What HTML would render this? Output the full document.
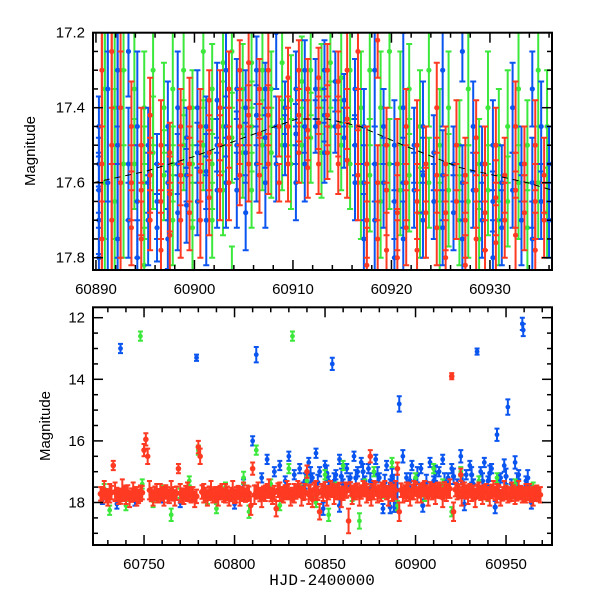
<!DOCTYPE html>
<html><head><meta charset="utf-8">
<style>
html,body{margin:0;padding:0;background:#fff}
svg{display:block}
text{font-family:"Liberation Sans",sans-serif;font-size:15px;fill:#000}
</style></head>
<body>
<svg id="chart" width="600" height="600" viewBox="0 0 600 600" xmlns="http://www.w3.org/2000/svg">
<defs>
<clipPath id="clipTop"><rect x="93" y="32.7" width="459" height="237.3"/></clipPath>
<clipPath id="clipBot"><rect x="93" y="307.3" width="459" height="237.7"/></clipPath>
</defs>
<g id="topMarks" clip-path="url(#clipTop)"></g>
<g id="botMarks" clip-path="url(#clipBot)"></g>
<g id="axes"></g>
<text x="35" y="151" transform="rotate(-90 35 151)" text-anchor="middle">Magnitude</text>
<text x="50" y="426" transform="rotate(-90 50 426)" text-anchor="middle">Magnitude</text>
<text x="322" y="585" text-anchor="middle" style="font-family:'Liberation Mono',monospace;font-size:16px">HJD-2400000</text>
</svg>
<script>
const colors = {blue:"#0a55f0", green:"#3de83d", red:"#ff3a22"};
const topBlue = [
[60890.3,17.45,.08],[60890.3,17.55,.07],[60890.3,17.62,.10],[60890.3,17.70,.09],[60890.3,17.80,.12],
[60891.2,17.35,.30],[60891.2,17.60,.35],[60892.2,17.30,.25],[60892.2,17.50,.30],[60892.2,17.75,.30],
[60893.3,17.25,.12],[60893.3,17.55,.15],[60893.3,17.70,.10],[60894.2,17.45,.20],[60894.2,17.65,.15],[60894.2,17.80,.10],
[60895.3,17.50,.10],[60895.3,17.60,.08],[60895.3,17.70,.12],[60896.2,17.55,.08],[60896.2,17.65,.10],[60896.2,17.72,.09],
[60897.3,17.45,.12],[60897.3,17.60,.10],[60897.3,17.75,.08],[60898.3,17.40,.15],[60898.3,17.55,.08],[60898.3,17.68,.10],
[60899.2,17.48,.08],[60899.2,17.58,.07],[60899.2,17.66,.10],[60900.3,17.40,.10],[60900.3,17.52,.08],[60900.3,17.65,.09],
[60901.2,17.45,.08],[60901.2,17.57,.10],[60901.2,17.70,.12],[60902.3,17.38,.10],[60902.3,17.50,.07],[60902.3,17.62,.10],
[60903.2,17.30,.10],[60903.2,17.45,.08],[60903.2,17.60,.12],[60904.3,17.35,.08],[60904.3,17.50,.09],[60904.3,17.62,.10],
[60905.2,17.40,.10],[60905.2,17.52,.08],[60905.2,17.68,.10],[60906.3,17.30,.09],[60906.3,17.42,.08],[60906.3,17.55,.10],
[60907.2,17.35,.07],[60907.2,17.48,.08],[60907.2,17.60,.12],[60908.3,17.20,.15],[60908.3,17.45,.08],[60908.3,17.55,.10],
[60909.2,17.40,.07],[60909.2,17.50,.08],[60910.3,17.35,.10],[60910.3,17.47,.08],[60910.3,17.60,.10],
[60911.2,17.30,.08],[60911.2,17.45,.07],[60911.2,17.55,.10],[60912.3,17.35,.08],[60912.3,17.45,.07],
[60913.2,17.30,.08],[60913.2,17.42,.07],[60913.2,17.52,.08],[60914.3,17.33,.08],[60914.3,17.45,.07],
[60915.2,17.38,.07],[60915.2,17.48,.08],[60916.3,17.35,.08],[60916.3,17.50,.08],[60916.3,17.60,.10],
[60917.2,17.45,.10],[60917.2,17.60,.10],[60917.2,17.75,.12],[60918.3,17.30,.15],[60918.3,17.55,.10],[60918.3,17.70,.15],
[60919.2,17.45,.10],[60919.2,17.60,.12],[60920.3,17.50,.12],[60920.3,17.65,.10],[60920.3,17.80,.15],
[60921.2,17.40,.20],[60921.2,17.60,.12],[60921.2,17.75,.10],[60922.3,17.50,.10],[60922.3,17.62,.10],
[60923.2,17.45,.12],[60923.2,17.58,.10],[60923.2,17.70,.10],[60924.3,17.52,.10],[60924.3,17.65,.10],
[60925.2,17.30,.15],[60925.2,17.58,.12],[60925.2,17.72,.10],[60926.3,17.55,.10],[60926.3,17.68,.10],
[60927.2,17.25,.08],[60927.2,17.60,.10],[60927.2,17.75,.10],[60928.3,17.45,.12],[60928.3,17.62,.10],
[60929.2,17.55,.10],[60929.2,17.70,.10],[60930.3,17.50,.12],[60930.3,17.65,.08],[60930.3,17.80,.10],
[60931.2,17.60,.10],[60931.2,17.72,.10],[60932.3,17.40,.12],[60932.3,17.62,.10],[60933.2,17.55,.10],[60933.2,17.70,.12],
[60934.3,17.35,.10],[60934.3,17.60,.12],[60934.3,17.75,.10],[60935.2,17.45,.12],[60935.2,17.65,.10],
[60936.0,17.55,.10],[60936.0,17.70,.10]];
const topRed = [
[60890.6,17.30,.35],[60890.6,17.55,.40],[60890.6,17.75,.30],[60891.6,17.25,.30],[60891.6,17.50,.35],[60891.6,17.70,.30],
[60892.5,17.40,.40],[60892.5,17.60,.35],[60893.6,17.45,.12],[60893.6,17.60,.10],[60893.6,17.72,.10],
[60894.6,17.50,.10],[60894.6,17.62,.12],[60894.6,17.75,.10],[60895.5,17.42,.10],[60895.5,17.58,.10],[60895.5,17.70,.08],
[60896.6,17.50,.12],[60896.6,17.65,.10],[60896.6,17.78,.10],[60897.5,17.52,.08],[60897.5,17.63,.10],[60897.5,17.74,.12],
[60898.6,17.45,.10],[60898.6,17.58,.08],[60898.6,17.70,.10],[60899.5,17.40,.08],[60899.5,17.55,.10],[60899.5,17.68,.10],
[60900.6,17.45,.10],[60900.6,17.57,.08],[60900.6,17.70,.10],[60901.5,17.38,.08],[60901.5,17.52,.10],[60901.5,17.64,.10],
[60902.6,17.40,.10],[60902.6,17.50,.08],[60902.6,17.62,.08],[60903.5,17.35,.10],[60903.5,17.48,.08],[60903.5,17.60,.10],
[60904.6,17.30,.08],[60904.6,17.45,.10],[60904.6,17.58,.08],[60905.5,17.28,.10],[60905.5,17.42,.08],[60905.5,17.55,.10],
[60906.6,17.35,.08],[60906.6,17.47,.08],[60906.6,17.58,.10],[60907.5,17.30,.10],[60907.5,17.42,.08],[60907.5,17.55,.08],
[60908.6,17.60,.05],[60908.6,17.45,.08],[60909.5,17.32,.08],[60909.5,17.45,.08],[60909.5,17.55,.10],
[60910.6,17.30,.08],[60910.6,17.42,.07],[60910.6,17.52,.08],[60911.5,17.35,.08],[60911.5,17.46,.08],[60911.5,17.56,.08],
[60912.6,17.32,.08],[60912.6,17.44,.07],[60912.6,17.55,.08],[60913.5,17.30,.07],[60913.5,17.42,.08],[60913.5,17.52,.07],
[60914.6,17.33,.08],[60914.6,17.45,.08],[60914.6,17.55,.08],[60915.5,17.30,.10],[60915.5,17.43,.08],[60915.5,17.54,.10],
[60916.6,17.25,.10],[60916.6,17.45,.10],[60916.6,17.58,.12],[60917.5,17.55,.10],[60917.5,17.70,.10],[60917.5,17.82,.10],
[60918.6,17.22,.10],[60918.6,17.60,.10],[60918.6,17.75,.10],[60919.5,17.50,.10],[60919.5,17.62,.12],[60919.5,17.78,.10],
[60920.6,17.55,.12],[60920.6,17.68,.10],[60920.6,17.80,.10],[60921.5,17.45,.10],[60921.5,17.60,.10],[60921.5,17.72,.10],
[60922.6,17.50,.12],[60922.6,17.65,.10],[60922.6,17.78,.10],[60923.5,17.55,.10],[60923.5,17.68,.12],
[60924.6,17.40,.12],[60924.6,17.58,.10],[60924.6,17.72,.10],[60925.5,17.55,.10],[60925.5,17.68,.10],[60925.5,17.80,.10],
[60926.6,17.50,.12],[60926.6,17.65,.10],[60927.5,17.58,.10],[60927.5,17.70,.10],[60927.5,17.82,.08],
[60928.6,17.48,.10],[60928.6,17.62,.10],[60928.6,17.75,.10],[60929.5,17.55,.10],[60929.5,17.68,.10],[60929.5,17.78,.08],
[60930.6,17.50,.10],[60930.6,17.64,.10],[60930.6,17.76,.10],[60931.5,17.58,.10],[60931.5,17.70,.10],
[60932.6,17.45,.12],[60932.6,17.62,.10],[60932.6,17.74,.10],[60933.5,17.55,.10],[60933.5,17.68,.10],
[60934.6,17.50,.12],[60934.6,17.65,.10],[60934.6,17.78,.10],[60935.5,17.58,.10],[60935.5,17.70,.10]];
const topGreen = [
[60890.9,17.35,.40],[60890.9,17.60,.40],[60891.9,17.40,.35],[60891.9,17.65,.30],[60892.8,17.30,.20],[60892.8,17.55,.25],
[60893.9,17.35,.15],[60893.9,17.55,.12],[60894.9,17.40,.15],[60894.9,17.60,.15],[60894.9,17.82,.10],
[60895.8,17.30,.20],[60895.8,17.52,.15],[60896.9,17.40,.12],[60896.9,17.58,.12],
[60897.8,17.35,.15],[60897.8,17.55,.10],[60897.8,17.70,.12],[60898.9,17.30,.12],[60898.9,17.50,.12],
[60899.8,17.40,.10],[60899.8,17.55,.15],[60899.8,17.72,.12],[60900.9,17.25,.15],[60900.9,17.50,.12],
[60901.8,17.35,.12],[60901.8,17.55,.12],[60901.8,17.70,.10],[60902.9,17.28,.12],[60902.9,17.45,.12],[60902.9,17.62,.12],
[60903.8,17.25,.15],[60903.8,17.48,.12],[60903.8,17.85,.08],[60904.9,17.35,.12],[60904.9,17.52,.12],
[60905.8,17.28,.12],[60905.8,17.45,.12],[60905.8,17.62,.10],[60906.9,17.30,.12],[60906.9,17.50,.12],
[60907.8,17.35,.10],[60907.8,17.52,.12],[60908.9,17.28,.15],[60908.9,17.50,.12],[60909.8,17.38,.12],[60909.8,17.55,.12],
[60910.9,17.33,.12],[60910.9,17.50,.10],[60911.8,17.30,.12],[60911.8,17.48,.12],[60912.9,17.35,.12],[60912.9,17.52,.12],
[60913.8,17.28,.12],[60913.8,17.45,.12],[60914.9,17.32,.12],[60914.9,17.50,.12],[60915.8,17.30,.15],[60915.8,17.55,.12],
[60916.9,17.40,.15],[60916.9,17.60,.15],[60917.8,17.30,.20],[60917.8,17.58,.15],[60918.9,17.40,.15],[60918.9,17.65,.15],
[60919.8,17.25,.15],[60919.8,17.55,.12],[60920.9,17.40,.15],[60920.9,17.62,.12],[60921.8,17.35,.12],[60921.8,17.58,.15],
[60922.9,17.45,.15],[60922.9,17.68,.12],[60923.8,17.30,.15],[60923.8,17.60,.12],[60924.9,17.50,.15],[60924.9,17.72,.12],
[60925.8,17.40,.15],[60925.8,17.62,.15],[60926.9,17.50,.12],[60926.9,17.70,.12],[60927.8,17.35,.15],[60927.8,17.65,.15],
[60928.9,17.55,.12],[60928.9,17.75,.10],[60929.8,17.40,.15],[60929.8,17.62,.12],[60930.9,17.50,.15],[60930.9,17.70,.12],
[60931.8,17.45,.15],[60931.8,17.65,.12],[60932.9,17.35,.15],[60932.9,17.60,.15],[60933.8,17.50,.12],[60933.8,17.72,.12],
[60934.9,17.30,.15],[60934.9,17.60,.15],[60935.8,17.45,.15],[60935.8,17.68,.12]];
const topTrend = [[60889.7,17.60],[60895,17.57],[60900,17.53],[60905,17.48],[60910.4,17.43],[60913.5,17.43],[60916.8,17.45],[60921.2,17.50],[60927,17.56],[60933.8,17.60],[60936.3,17.62]];

const botRed = [
[60727,17.75,.25],[60728,17.60,.30],[60730,17.85,.25],[60731,17.70,.30],[60733,16.80,.15],[60734,17.65,.30],[60736,17.80,.25],[60738,17.60,.35],[60740,17.75,.30],[60742,17.90,.25],
[60744,17.65,.30],[60746,17.80,.30],[60748,17.70,.25],[60750,16.30,.20],[60751,15.95,.20],[60752,16.50,.25],[60753,17.60,.30],[60755,17.85,.25],[60757,17.70,.30],[60759,17.65,.25],
[60761,17.80,.30],[60763,17.75,.25],[60765,17.60,.30],[60767,17.85,.25],[60769,16.90,.15],[60770,17.70,.30],[60772,17.80,.25],[60774,17.65,.30],[60776,17.75,.25],[60778,17.90,.25],
[60780,16.20,.20],[60781,16.50,.25],[60783,17.70,.30],[60785,17.85,.25],[60787,17.60,.30],[60789,17.75,.25],[60791,17.80,.30],[60793,17.65,.25],[60795,17.70,.30],[60797,17.85,.25],
[60799,17.60,.30],[60801,17.75,.25],[60803,17.80,.30],[60805,17.65,.30],[60807,17.70,.25],[60809,18.10,.30],[60810,16.90,.20],[60811,17.75,.30],[60813,17.60,.25],[60815,17.85,.30],
[60817,17.70,.25],[60819,17.55,.30],[60821,17.80,.25],[60823,18.20,.25],[60825,17.65,.30],[60827,17.75,.25],[60829,17.60,.30],[60831,17.85,.25],[60833,17.70,.30],[60835,17.55,.25],
[60837,17.80,.30],[60839,17.65,.25],[60840,17.00,.20],[60841,17.75,.30],[60843,17.90,.25],[60845,17.60,.30],[60847,18.30,.25],[60849,17.70,.25],[60851,17.80,.30],[60853,17.55,.25],
[60855,17.75,.30],[60857,17.65,.25],[60859,17.85,.30],[60861,17.60,.25],[60863,18.60,.40],[60865,17.75,.30],[60867,17.65,.25],[60869,17.80,.30],[60871,17.55,.25],[60873,17.70,.30],
[60875,16.50,.20],[60875.5,17.85,.25],[60877,17.60,.30],[60879,17.75,.25],[60881,17.65,.30],[60883,17.55,.25],[60885,17.80,.30],[60887,17.70,.25],[60889,17.60,.30],[60890,16.90,.20],
[60891,18.30,.30],[60893,17.75,.25],[60895,17.65,.30],[60897,17.85,.25],[60899,17.60,.30],[60901,17.75,.25],[60903,17.70,.30],[60905,17.55,.25],[60907,17.80,.30],[60909,17.65,.25],
[60911,17.75,.30],[60913,17.60,.25],[60915,17.85,.30],[60917,17.70,.25],[60919,17.55,.30],[60920,13.90,.10],[60921,18.30,.30],[60923,17.65,.25],[60925,17.10,.20],[60925.5,17.80,.30],
[60927,17.60,.25],[60929,17.75,.30],[60931,17.70,.25],[60933,17.85,.30],[60935,17.60,.25],[60937,17.75,.30],[60939,17.65,.25],[60941,17.80,.30],[60943,17.55,.25],[60945,17.70,.30],
[60947,17.85,.25],[60949,17.60,.30],[60951,17.75,.25],[60953,17.65,.30],[60955,17.80,.25],[60957,17.60,.30],[60959,17.75,.25],[60961,17.70,.30],[60963,17.65,.25],[60965,17.80,.30],
[60967,17.70,.25],[60969,17.75,.25]];
const botRedExtra = [
[60726,17.72,.22],[60729,17.78,.22],[60732,17.68,.22],[60735,17.74,.22],[60737,17.82,.22],[60739,17.70,.22],[60741,17.66,.22],[60743,17.76,.22],[60745,17.72,.22],[60747,17.80,.22],
[60749,17.68,.22],[60754,17.74,.22],[60756,17.70,.22],[60758,17.78,.22],[60760,17.72,.22],[60762,17.66,.22],[60764,17.80,.22],[60766,17.72,.22],[60768,17.70,.22],[60771,17.76,.22],
[60773,17.68,.22],[60775,17.74,.22],[60777,17.72,.22],[60779,17.80,.22],[60782,17.66,.22],[60784,17.74,.22],[60786,17.70,.22],[60788,17.78,.22],[60790,17.72,.22],[60792,17.68,.22],
[60794,17.76,.22],[60796,17.70,.22],[60798,17.74,.22],[60800,17.80,.22],[60802,17.68,.22],[60804,17.72,.22],[60806,17.76,.22],[60808,17.70,.22],[60812,17.66,.22],[60814,17.74,.22],
[60816,17.70,.22],[60818,17.62,.22],[60820,17.74,.22],[60822,17.68,.22],[60824,17.60,.22],[60826,17.72,.22],[60828,17.66,.22],[60830,17.62,.22],[60832,17.74,.22],[60834,17.66,.22],
[60836,17.60,.22],[60838,17.70,.22],[60842,17.64,.22],[60844,17.58,.22],[60846,17.70,.22],[60848,17.62,.22],[60850,17.56,.22],[60852,17.68,.22],[60854,17.60,.22],[60856,17.66,.22],
[60858,17.58,.22],[60860,17.70,.22],[60862,17.62,.22],[60864,17.56,.22],[60866,17.68,.22],[60868,17.60,.22],[60870,17.66,.22],[60872,17.58,.22],[60874,17.70,.22],[60876,17.62,.22],
[60878,17.56,.22],[60880,17.66,.22],[60882,17.60,.22],[60884,17.68,.22],[60886,17.58,.22],[60888,17.64,.22],[60892,17.60,.22],[60894,17.66,.22],[60896,17.58,.22],[60898,17.64,.22],
[60900,17.56,.22],[60902,17.62,.22],[60904,17.58,.22],[60906,17.66,.22],[60908,17.56,.22],[60910,17.62,.22],[60912,17.58,.22],[60914,17.64,.22],[60916,17.56,.22],[60918,17.62,.22],
[60922,17.58,.22],[60924,17.64,.22],[60926,17.60,.22],[60928,17.66,.22],[60930,17.62,.22],[60932,17.68,.22],[60934,17.64,.22],[60936,17.70,.22],[60938,17.66,.22],[60940,17.72,.22],
[60942,17.64,.22],[60944,17.70,.22],[60946,17.66,.22],[60948,17.72,.22],[60950,17.68,.22],[60952,17.74,.22],[60954,17.66,.22],[60956,17.72,.22],[60958,17.68,.22],[60960,17.74,.22],
[60962,17.70,.22],[60964,17.76,.22],[60966,17.70,.22],[60968,17.74,.22]];
const botBlue = [
[60727,17.90,.15],[60735,18.05,.15],[60737,13.00,.15],[60745,17.95,.15],[60760,17.85,.15],[60770,18.00,.15],[60779,13.30,.10],[60790,17.90,.15],[60800,18.05,.15],[60805,17.40,.15],
[60810,16.00,.15],[60812,13.20,.25],[60815,17.20,.15],[60818,16.60,.15],[60822,17.00,.15],[60825,16.80,.15],[60828,17.30,.15],[60830,16.50,.15],[60833,17.10,.15],[60836,16.90,.15],
[60838,17.50,.15],[60841,16.70,.15],[60843,17.20,.15],[60845,16.40,.15],[60847,17.00,.15],[60849,18.20,.20],[60850,16.80,.15],[60852,17.30,.15],[60854,13.50,.20],[60856,17.10,.15],
[60858,16.60,.15],[60860,17.40,.15],[60862,16.90,.15],[60864,17.20,.15],[60866,16.50,.15],[60868,17.00,.15],[60870,16.70,.15],[60872,17.30,.15],[60874,16.90,.15],[60876,17.50,.15],
[60878,16.60,.15],[60880,17.20,.15],[60882,18.20,.15],[60884,16.80,.15],[60886,17.40,.15],[60888,17.70,.60],[60889,17.80,.50],[60890,17.60,.70],[60891,14.80,.25],[60893,16.50,.20],
[60895,17.20,.15],[60898,16.80,.15],[60900,17.40,.15],[60903,16.90,.15],[60905,17.60,.15],[60908,16.70,.15],[60910,17.30,.15],[60913,17.00,.15],[60915,16.60,.15],[60918,17.20,.15],
[60920,16.90,.15],[60923,17.40,.15],[60925,16.50,.20],[60928,17.10,.15],[60930,16.80,.15],[60932,17.40,.15],[60934,13.10,.10],[60936,17.00,.15],[60938,16.70,.15],[60940,17.30,.15],
[60942,16.90,.15],[60945,15.80,.20],[60947,17.20,.15],[60949,16.80,.20],[60951,14.90,.25],[60953,17.40,.15],[60955,16.70,.20],[60957,17.10,.15],[60959,12.20,.20],[60959.5,12.40,.20],
[60961,17.30,.15],[60963,17.60,.15],[60966,17.80,.15],[60968,17.70,.15]];
const botBlueExtra = [
[60839,17.30,.25],[60842,17.10,.25],[60846,17.35,.25],[60851,17.05,.25],[60855,17.30,.25],[60859,17.15,.25],[60863,17.40,.25],[60867,17.20,.25],[60871,17.00,.25],[60875,17.30,.25],
[60879,17.10,.25],[60883,17.35,.25],[60887,17.15,.25],[60897,17.30,.25],[60901,17.10,.25],[60906,17.35,.25],[60911,17.05,.25],[60916,17.30,.25],[60921,17.15,.25],[60926,17.35,.25],
[60931,17.10,.25],[60937,17.30,.25],[60941,17.05,.25],[60946,17.35,.25],[60950,17.15,.25],[60956,17.30,.25],[60962,17.20,.25],[60858,18.10,.20],[60886,18.15,.20],[60904,18.10,.20],
[60927,18.05,.20],[60944,18.15,.20],[60964,18.00,.20]];
const botGreen = [
[60728,17.55,.15],[60731,18.25,.15],[60735,17.80,.15],[60740,18.10,.15],[60748,12.60,.15],[60749,17.40,.15],[60755,17.95,.20],[60760,17.60,.15],[60765,18.40,.20],[60770,17.70,.15],
[60775,17.30,.15],[60780,16.30,.15],[60785,17.90,.15],[60790,18.20,.15],[60795,17.50,.15],[60800,17.85,.15],[60805,17.20,.20],[60808,18.30,.20],[60812,16.30,.15],[60815,17.70,.15],
[60820,17.40,.15],[60825,18.10,.15],[60830,16.90,.15],[60832,12.60,.15],[60836,17.60,.15],[60840,17.30,.15],[60845,18.00,.15],[60850,17.10,.15],[60852,18.40,.20],[60856,17.50,.15],
[60860,16.80,.15],[60865,17.80,.15],[60869,18.60,.25],[60872,17.40,.15],[60877,17.00,.15],[60882,17.70,.15],[60887,16.70,.15],[60890,18.10,.15],[60895,17.50,.15],[60900,17.20,.15],
[60905,17.80,.15],[60910,16.90,.15],[60915,17.40,.15],[60920,18.30,.15],[60925,17.00,.15],[60930,17.60,.15],[60935,17.30,.15],[60940,17.80,.15],[60945,17.20,.15],[60950,17.60,.15],
[60955,17.40,.15],[60960,17.70,.15],[60965,17.50,.15]];
const topXTicks = [60890,60900,60910,60920,60930];
const topYTicks = [17.2,17.4,17.6,17.8];
const botXTicks = [60750,60800,60850,60900,60950];
const botYTicks = [12,14,16,18];

const NS="http://www.w3.org/2000/svg";
const xT=t=>93+(t-60889.7)*9.85, yT=m=>32.7+(m-17.2)*375;
const xB=t=>93+(t-60721.8)*1.81, yB=m=>317.7+(m-12)*30.8;
function mk(tag,parent){const e=document.createElementNS(NS,tag);parent.appendChild(e);return e;}

function drawSeries(parent,data,color,xs,ys,r,cap,name){
  const g=mk('g',parent);
  
  
  data.forEach(d=>{
    const x=xs(d[0]),y1=ys(d[1]-d[2]),y2=ys(d[1]+d[2]);
    const p=mk('path',g);
    
    
    p.setAttribute('d',`M${x},${y1}V${y2}M${x-cap},${y1}H${x+cap}M${x-cap},${y2}H${x+cap}`);
    p.setAttribute('stroke',color);p.setAttribute('stroke-width','2');p.setAttribute('fill','none');
    const c=mk('circle',g);
    
    
    c.setAttribute('cx',x);c.setAttribute('cy',ys(d[1]));c.setAttribute('r',r);c.setAttribute('fill',color);
  });
}
const tg=document.getElementById('topMarks'), bg=document.getElementById('botMarks');
drawSeries(tg,topGreen,colors.green,xT,yT,2.6,3,'top-series-green');
drawSeries(tg,topBlue,colors.blue,xT,yT,2.6,3,'top-series-blue');
drawSeries(tg,topRed,colors.red,xT,yT,2.6,3,'top-series-red');
const tl=mk('polyline',tg);


tl.setAttribute('points',topTrend.map(p=>xT(p[0])+','+yT(p[1])).join(' '));
tl.setAttribute('fill','none');tl.setAttribute('stroke','#000');tl.setAttribute('stroke-width','1');tl.setAttribute('stroke-dasharray','6,5');
drawSeries(bg,botBlue,colors.blue,xB,yB,2.4,2.5,'bottom-series-blue');
drawSeries(bg,botBlueExtra,colors.blue,xB,yB,2.6,2.5,'bottom-series-blue-dense');
drawSeries(bg,botGreen,colors.green,xB,yB,2.4,2.5,'bottom-series-green');
drawSeries(bg,botRedExtra,colors.red,xB,yB,3,2.5,'bottom-series-red-dense');
drawSeries(bg,botRed,colors.red,xB,yB,2.8,2.5,'bottom-series-red');

const ax=document.getElementById('axes');
function line(x1,y1,x2,y2,w){const l=mk('line',ax);
  
  
  l.setAttribute('x1',x1);l.setAttribute('y1',y1);l.setAttribute('x2',x2);l.setAttribute('y2',y2);l.setAttribute('stroke','#000');l.setAttribute('stroke-width',w||1.5);}
function text(x,y,s,anchor,name){const t=mk('text',ax);
  
  
  t.setAttribute('x',x);t.setAttribute('y',y);t.setAttribute('text-anchor',anchor);t.textContent=s;}
function panel(L,T,R,B,xs,ys,xMin,xMax,xMinor,xMaj,yMin,yMax,yMinor,yMaj,xLab,yLab,fmtY,pname){
  const r=mk('rect',ax);
  
  
  r.setAttribute('x',L);r.setAttribute('y',T);r.setAttribute('width',R-L);r.setAttribute('height',B-T);
  r.setAttribute('fill','none');r.setAttribute('stroke','#000');r.setAttribute('stroke-width','2');
  for(let v=Math.ceil(xMin/xMinor)*xMinor; v<=xMax; v+=xMinor){
    const x=xs(v); const maj=Math.abs(v/xMaj-Math.round(v/xMaj))<1e-6; const len=maj?10:5;
    line(x,B,x,B-len);line(x,T,x,T+len);
  }
  for(let k=Math.ceil(yMin/yMinor-1e-6); k*yMinor<=yMax+1e-9; k++){
    const v=k*yMinor; const y=ys(v); const maj=Math.abs(v/yMaj-Math.round(v/yMaj))<1e-6; const len=maj?10:5;
    line(L,y,L+len,y);line(R,y,R-len,y);
  }
  xLab.forEach(v=>text(xs(v),B+24,String(v),'middle',pname+'-x-tick-label'));
  yLab.forEach(v=>text(L-8,ys(v)+5,fmtY(v),'end',pname+'-y-tick-label'));
}
panel(93,32.7,552,270,xT,yT,60889.7,60936.3,2,10,17.2,17.833,0.05,0.2,topXTicks,topYTicks,v=>v.toFixed(1),'top-panel');
panel(93,307.3,552,545,xB,yB,60721.8,60975,10,50,11.66,19.36,0.5,2,botXTicks,botYTicks,v=>String(v),'bottom-panel');
</script>
</body></html>
